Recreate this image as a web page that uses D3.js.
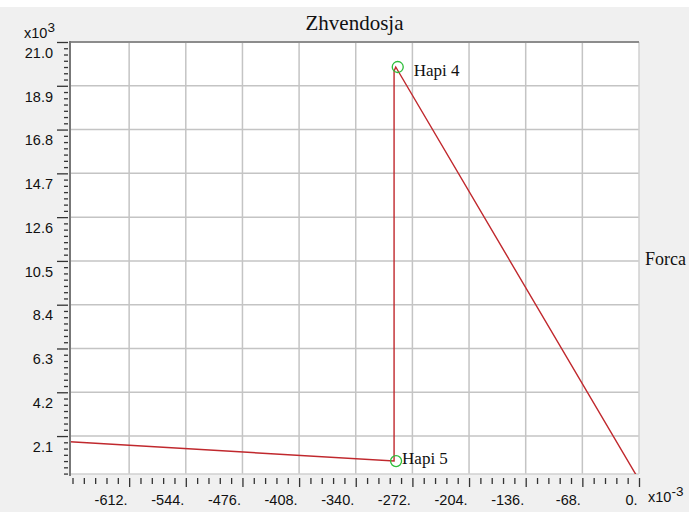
<!DOCTYPE html>
<html>
<head>
<meta charset="utf-8">
<script src="https://cdn.jsdelivr.net/npm/d3@7"></script>
<style>
  html, body { margin: 0; padding: 0; background: #f0f0f0; }
  svg { display: block; }
  .tick text { font-family: "Liberation Sans", Arial, sans-serif; font-size: 14.5px; fill: #111; }
  .serif { font-family: "Liberation Serif", "Times New Roman", serif; fill: #111; }
</style>
</head>
<body>
<div id="chart"></div>
<script>
// data (displacement x10^-3, force x10^3)
const dispX = [0, -292, -294, -294, -683];
const forceY = [0, 19.8, 19.6, 0.9, 1.83];
const stepNames = ["Hapi 4", "Hapi 5"];
const stepX = [-292, -294];
const stepY = [19.8, 0.9];
const xTicks = [-612, -544, -476, -408, -340, -272, -204, -136, -68, 0];
const yTicks = [2.1, 4.2, 6.3, 8.4, 10.5, 12.6, 14.7, 16.8, 18.9, 21.0];

const width = 689;
const height = 512;
const margin = { top: 42, right: 50, bottom: 38, left: 70 };

const svg = d3.select("#chart")
  .append("svg")
  .attr("width", width)
  .attr("height", height);

// white strip at top
svg.append("rect")
  .attr("x", 0).attr("y", 0)
  .attr("width", width).attr("height", 7)
  .attr("fill", "#fff");

// scales
const x = d3.scaleLinear()
  .domain([-683, 0])
  .range([margin.left, width - margin.right]);

const y = d3.scaleLinear()
  .domain([0.28, 21.0])
  .range([height - margin.bottom, margin.top]);

const x0 = margin.left, x1 = width - margin.right;
const y0 = height - margin.bottom, y1 = margin.top;

// plot background
svg.append("rect")
  .attr("x", x0).attr("y", y1)
  .attr("width", x1 - x0).attr("height", y0 - y1)
  .attr("fill", "#fff");

// grid
const grid = svg.append("g").attr("stroke", "#c4c4c4").attr("stroke-width", 1.5);
grid.selectAll(".gx")
  .data(xTicks.filter(d => d !== 0))
  .join("line")
  .attr("x1", d => x(d)).attr("x2", d => x(d))
  .attr("y1", y1).attr("y2", y0);
grid.selectAll(".gy")
  .data(yTicks.filter(d => d !== 21.0))
  .join("line")
  .attr("x1", x0).attr("x2", x1)
  .attr("y1", d => y(d)).attr("y2", d => y(d));

// frame
svg.append("line").attr("x1", x1).attr("x2", x1).attr("y1", y1).attr("y2", y0)
  .attr("stroke", "#d0d0d0").attr("stroke-width", 1.5);
svg.append("line").attr("x1", x0).attr("x2", x1).attr("y1", y0).attr("y2", y0)
  .attr("stroke", "#d0d0d0").attr("stroke-width", 1.5);
svg.append("line").attr("x1", x0).attr("x2", x1).attr("y1", y1).attr("y2", y1)
  .attr("stroke", "#8c8c8c").attr("stroke-width", 2);

// clip
svg.append("clipPath").attr("id", "clip")
  .append("rect")
  .attr("x", x0).attr("y", y1)
  .attr("width", x1 - x0).attr("height", y0 - y1);

// data line
const line = d3.line()
  .x((d, i) => x(dispX[i]))
  .y((d, i) => y(forceY[i]));

svg.append("path")
  .datum(dispX)
  .attr("clip-path", "url(#clip)")
  .attr("fill", "none")
  .attr("stroke", "#c0282d")
  .attr("stroke-width", 1.4)
  .attr("d", line);

// step markers
svg.selectAll(".step")
  .data(stepNames)
  .join("circle")
  .attr("cx", (d, i) => x(stepX[i]) + 2)
  .attr("cy", (d, i) => y(stepY[i]))
  .attr("r", 5.5)
  .attr("fill", "none")
  .attr("stroke", "#2ebd3a")
  .attr("stroke-width", 1.3);

svg.selectAll(".steplabel")
  .data(stepNames)
  .join("text")
  .attr("class", "serif")
  .attr("x", (d, i) => x(stepX[i]) + (i === 0 ? 18 : 8))
  .attr("y", (d, i) => y(stepY[i]) + (i === 0 ? 9 : 3))
  .attr("font-size", 17)
  .text(d => d);

// y axis
const minorY = d3.range(0.3, 21.0, 0.3).filter(v => yTicks.every(t => Math.abs(t - v) > 0.01));

svg.append("g")
  .attr("transform", `translate(${x0 - 2},0)`)
  .call(d3.axisLeft(y).tickValues(minorY).tickSize(4).tickFormat(""))
  .call(g => g.select(".domain").remove())
  .selectAll("line").attr("stroke", "#333").attr("stroke-width", 1.3);

const yAxis = svg.append("g")
  .attr("transform", `translate(${x0 - 2},0)`)
  .call(d3.axisLeft(y).tickValues(yTicks).tickSize(11).tickPadding(5).tickFormat(d3.format(".1f")))
  .call(g => g.select(".domain").remove());
yAxis.selectAll("line").attr("stroke", "#333").attr("stroke-width", 1.3);
yAxis.selectAll("text").attr("dy", "1.05em").attr("x", -15);

svg.append("line")
  .attr("x1", x0).attr("x2", x0).attr("y1", y1 - 1).attr("y2", y0 + 2)
  .attr("stroke", "#777").attr("stroke-width", 2);

// x axis
const minorXVals = d3.range(0, 51).map(i => -i * 13.6).filter(v => v > -683 && xTicks.every(t => Math.abs(t - v) > 0.1));

svg.append("g")
  .attr("transform", `translate(0,${y0 + 4})`)
  .call(d3.axisBottom(x).tickValues(minorXVals).tickSize(6).tickFormat(""))
  .call(g => g.select(".domain").remove())
  .selectAll("line").attr("stroke", "#333").attr("stroke-width", 1.3);

const xAxis = svg.append("g")
  .attr("transform", `translate(0,${y0 + 4})`)
  .call(d3.axisBottom(x).tickValues(xTicks).tickSize(9).tickPadding(4).tickFormat(d => d + "."))
  .call(g => g.select(".domain").remove());
xAxis.selectAll("line").attr("stroke", "#333").attr("stroke-width", 1.3);
xAxis.selectAll("text").attr("text-anchor", "end").attr("x", -2).attr("dy", "0.95em");

// multipliers
const sans = "Liberation Sans, Arial, sans-serif";
const my = svg.append("text").attr("x", 24).attr("y", 38)
  .attr("font-family", sans).attr("font-size", 14.5).attr("fill", "#111");
my.append("tspan").text("x10");
my.append("tspan").attr("dy", -6).attr("font-size", 13.5).text("3");

const mx = svg.append("text").attr("x", 648).attr("y", 502)
  .attr("font-family", sans).attr("font-size", 14.5).attr("fill", "#111");
mx.append("tspan").text("x10");
mx.append("tspan").attr("dy", -6).attr("font-size", 13.5).text("-3");

// titles
svg.append("text")
  .attr("class", "serif")
  .attr("x", (x0 + x1) / 2)
  .attr("y", 30)
  .attr("text-anchor", "middle")
  .attr("font-size", 21)
  .text("Zhvendosja");

svg.append("text")
  .attr("class", "serif")
  .attr("x", 645)
  .attr("y", 265)
  .attr("font-size", 18)
  .text("Forca");
</script>
</body>
</html>
